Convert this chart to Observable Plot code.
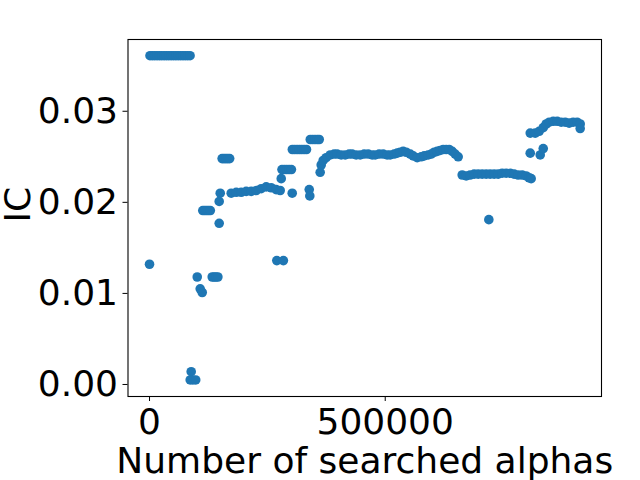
<!DOCTYPE html>
<html>
<head>
<meta charset="utf-8">
<script src="https://cdn.jsdelivr.net/npm/d3@7"></script>
<script src="https://cdn.jsdelivr.net/npm/@observablehq/plot@0.6"></script>
<style>
  html, body { margin: 0; padding: 0; background: white; }
</style>
</head>
<body>
<div id="chart"></div>
<script>
// Number of searched alphas (x) and IC (y)
const alphas = [
  0,
  1000, 6000, 11000, 16000, 21000, 26000, 31000, 36000, 41000, 46000, 51000, 56000, 61000, 66000, 71000, 76000, 81000, 86000,
  88400, 86300, 92000, 98000,
  101200, 107500, 111800,
  113000, 117000, 121000, 125000, 129000,
  133000, 137000, 141000, 145000,
  147800, 147800, 150000,
  154000, 158000, 162000, 166000, 170000,
  173300, 184000, 194500, 205100, 215700, 226300, 236900, 247500, 258100, 268700, 277200,
  270000, 284000,
  279400,
  281000, 286000, 291000, 296000, 301000,
  302700,
  303000, 308000, 313000, 318000, 323000, 328000, 333000,
  341000, 346000, 351000, 356000, 360000,
  338800, 340000,
  362000, 364200, 368400, 374700,
  383300, 391700, 398100, 406600, 415100, 423500, 429900, 438400, 446900, 455400,
  463900, 472300, 478700, 487200, 495700, 504100, 510500, 519000, 525400, 531700,
  538100, 544500, 553000, 559300, 567800, 576300, 582700, 591100, 597500, 603900,
  610200, 616600, 623000, 629300, 635700, 642100, 648400, 654800,
  663300, 671800, 680200, 688700, 697200, 705700, 714200, 722600, 731100, 739600,
  748100, 756600, 765100, 773500, 782000, 790500, 799000, 805300, 809600,
  719800,
  807600, 828800, 835200,
  807600, 818200, 826600, 835200, 841500, 847900,
  856400, 864900, 873300, 881800, 890200, 898700, 907200,
  913600, 913600
];
const ic = [
  0.0132,
  0.0361, 0.0361, 0.0361, 0.0361, 0.0361, 0.0361, 0.0361, 0.0361, 0.0361, 0.0361, 0.0361, 0.0361, 0.0361, 0.0361, 0.0361, 0.0361, 0.0361, 0.0361,
  0.0014, 0.0005, 0.0005, 0.0005,
  0.0118, 0.0105, 0.0101,
  0.0191, 0.0191, 0.0191, 0.0191, 0.0191,
  0.0118, 0.0118, 0.0118, 0.0118,
  0.0177, 0.0201, 0.0210,
  0.0248, 0.0248, 0.0248, 0.0248, 0.0248,
  0.0210, 0.0211, 0.0211, 0.0212, 0.0212, 0.0213, 0.0215, 0.0217, 0.0216, 0.0214, 0.0213,
  0.0136, 0.0136,
  0.0226,
  0.0236, 0.0236, 0.0236, 0.0236, 0.0236,
  0.0210,
  0.0258, 0.0258, 0.0258, 0.0258, 0.0258, 0.0258, 0.0258,
  0.0269, 0.0269, 0.0269, 0.0269, 0.0269,
  0.0214, 0.0207,
  0.0233, 0.0241, 0.0246, 0.0249,
  0.0252, 0.0253, 0.0253, 0.0252, 0.0252, 0.0253, 0.0253, 0.0252, 0.0252, 0.0253,
  0.0253, 0.0252, 0.0252, 0.0253, 0.0253, 0.0252, 0.0252, 0.0253, 0.0254, 0.0255,
  0.0256, 0.0255, 0.0253, 0.0251, 0.0249, 0.0250, 0.0251, 0.0252, 0.0253, 0.0255,
  0.0256, 0.0257, 0.0258, 0.0258, 0.0258, 0.0256, 0.0253, 0.0250,
  0.0230, 0.0229, 0.0230, 0.0231, 0.0231, 0.0231, 0.0231, 0.0231, 0.0231, 0.0231,
  0.0232, 0.0232, 0.0232, 0.0231, 0.0230, 0.0230, 0.0229, 0.0227, 0.0226,
  0.0181,
  0.0254, 0.0252, 0.0259,
  0.0276, 0.0276, 0.0278, 0.0282, 0.0286, 0.0288,
  0.0289, 0.0289, 0.0288, 0.0288, 0.0287, 0.0288, 0.0288,
  0.0286, 0.0281
];
const xTicks = [0, 500000];
const yTicks = [0.00, 0.01, 0.02, 0.03];
const xLabel = "Number of searched alphas";
const yLabel = "IC";

const data = alphas.map((a, i) => ({alphas: a, ic: ic[i]}));

const chart = Plot.plot({
  width: 640,
  height: 480,
  marginLeft: 127.5,
  marginRight: 39,
  marginTop: 39,
  marginBottom: 84,
  style: {fontFamily: "DejaVu Sans", fontSize: "36px", color: "black", background: "white", overflow: "visible"},
  x: {domain: [-45650, 958800]},
  y: {domain: [-0.00132, 0.03788]},
  marks: [
    Plot.dot(data, {x: "alphas", y: "ic", r: 4.8, fill: "#1f77b4", stroke: null}),
    Plot.frame({stroke: "black", strokeWidth: 1.1}),
    Plot.axisX({ticks: xTicks, tickFormat: d => String(d), tickSize: 5, tickPadding: 7, stroke: "black", fill: "black",
      label: null, fontSize: 36}),
    Plot.axisY({ticks: yTicks, tickFormat: d3.format(".2f"), tickSize: 5, tickPadding: 5, stroke: "black", fill: "black",
      label: null, fontSize: 36}),
    Plot.text([xLabel], {text: d => d, frameAnchor: "bottom", lineAnchor: "top", dy: 51, fontSize: 36, fill: "black"}),
    Plot.text([yLabel], {text: d => d, frameAnchor: "left", rotate: -90, lineAnchor: "top", dx: -124, dy: 4.5, fontSize: 36, fill: "black"})
  ]
});
document.getElementById("chart").appendChild(chart);
</script>
</body>
</html>
